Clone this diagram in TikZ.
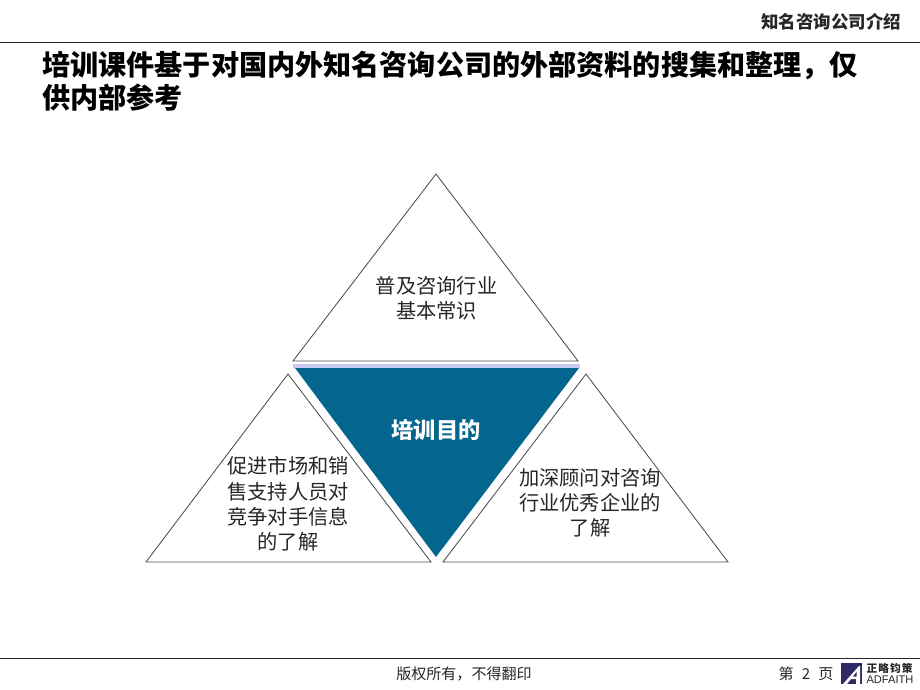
\documentclass[tikz,border=0pt]{standalone}
\usepackage{fontspec}
\setmainfont{Noto Sans CJK SC}
\setsansfont{Liberation Sans}
\usepackage{xcolor}
\definecolor{deepteal}{HTML}{04668F}
\definecolor{pale}{HTML}{C9C9F5}
\definecolor{logoblue}{HTML}{2E2A66}
\tikzset{
	rule/.style = {line width = .7pt, black!85},
	tri/.style = {draw = black!70, line width = .6pt},
	body/.style = {align = center, font = \fontsize{14.4}{17.9}\selectfont, text = black!85},
}
\begin{document}
\begin{tikzpicture}[x = .025cm, y = -.025cm]
	\useasboundingbox (0,0) rectangle (920,690);
	\draw[rule] (0,42) -- (920,42);
	\draw[rule] (0,658.5) -- (920,658.5);
	\node[font = \fontsize{12.4}{14}\selectfont\bfseries, text = black!85, anchor = east] (header) at (906,22) {知名咨询公司介绍};
	\node[font = \fontsize{20}{23.5}\selectfont\bfseries, align = left, anchor = north west, inner sep = 0pt] (heading) at (42,51) {培训课件基于对国内外知名咨询公司的外部资料的搜集和整理，仅\\供内部参考};
	\draw[tri] (436,174) -- (578,361) -- (293,361) -- cycle;
	\draw[tri] (288,374) -- (431,562) -- (146,562) -- cycle;
	\draw[tri] (586,374) -- (728,562) -- (443,562) -- cycle;
	\fill[pale] (293,364) rectangle (580,368);
	\fill[deepteal] (295,368) -- (579,368) -- (436,557) -- cycle;
	\node[body] (basic) at (436.5,298.5) {普及咨询行业\\基本常识};
	\node[body] (promote) at (288,504) {促进市场和销\\售支持人员对\\竞争对手信息\\的了解};
	\node[body] (deepen) at (590,502.5) {加深顾问对咨询\\行业优秀企业的\\了解};
	\node[font = \fontsize{15.8}{18}\selectfont\bfseries, text = white] (goal) at (436,430.5) {培训目的};
	\node[font = \fontsize{10.7}{13}\selectfont, text = black!85] (copyright) at (464,673.5) {版权所有，不得翻印};
	\node[font = \fontsize{10.7}{13}\selectfont, text = black!85] (page) at (806,674) {第\hspace{.55em}2\hspace{.55em}页};
	% logo
	\fill[logoblue] (841,663) rectangle (862,684);
	\fill[white] (843,684) -- (859,666) -- (860,666) -- (860,684) -- (856,684) -- (856,679) -- (851,679) -- (847,684) -- cycle;
	\fill[logoblue] (853,676.5) -- (856.5,672) -- (856.5,676.5) -- cycle;
	\node[font = \fontsize{7.6}{8}\selectfont\bfseries, text = black!85, inner sep = 0pt] (logocn) at (889.5,668) {正\hspace{.1em}略\hspace{.1em}钧\hspace{.1em}策};
	\node[font = \sffamily\fontsize{7.9}{8}\selectfont, text = black!85, inner sep = 0pt] (logoen) at (890,680) {ADFAITH};
\end{tikzpicture}
\end{document}
